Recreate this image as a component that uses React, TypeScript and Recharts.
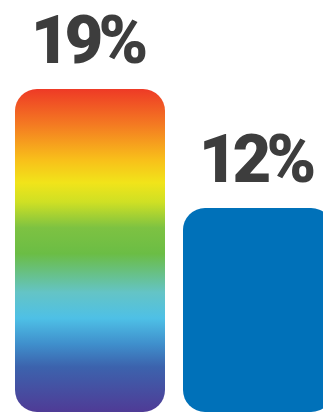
import { BarChart, Bar, XAxis, YAxis, Cell, LabelList } from 'recharts'

const categories = ['A', 'B']
const values = [19, 12]
const labels = ['19%', '12%']

const data = categories.map((c, i) => ({ name: c, value: values[i], label: labels[i] }))

const rainbow = [
  { offset: '0%', color: '#ee3a26' },
  { offset: '11%', color: '#f47a22' },
  { offset: '22%', color: '#f8c01a' },
  { offset: '29%', color: '#f1e41a' },
  { offset: '35%', color: '#cfe024' },
  { offset: '43%', color: '#7dc242' },
  { offset: '51%', color: '#6bbd45' },
  { offset: '63%', color: '#64c4c6' },
  { offset: '71%', color: '#4ec0e6' },
  { offset: '79%', color: '#3f8fcc' },
  { offset: '86%', color: '#3c63ad' },
  { offset: '100%', color: '#4f3b96' },
]

const renderLabel = (props: any) => {
  const { x, y, width, value } = props
  return (
    <text x={x + width / 2 - 3} y={y - 26} textAnchor="middle"
      style={{ fontFamily: 'Roboto', fontWeight: 900, fontSize: 67, letterSpacing: '-5px' }}
      fill="#3d3d3d">
      {value}
    </text>
  )
}

export default function App() {
  return (
    <div style={{ position: 'absolute', left: 0, top: 0, width: 323, height: 412, overflow: 'hidden', background: '#fff' }}>
      <BarChart width={342} height={412} data={data}
        margin={{ top: 89, right: 0, bottom: 0, left: 6 }} barSize={150}>
        <defs>
          <linearGradient id="rainbow" x1="0" y1="0" x2="0" y2="1">
            {rainbow.map(s => <stop key={s.offset} offset={s.offset} stopColor={s.color} />)}
          </linearGradient>
        </defs>
        <XAxis dataKey="name" hide />
        <YAxis hide domain={[0, 19]} />
        <Bar dataKey="value" radius={[22, 22, 22, 22]} isAnimationActive={false}>
          <Cell fill="url(#rainbow)" />
          <Cell fill="#0071b9" />
          <LabelList dataKey="label" content={renderLabel} />
        </Bar>
      </BarChart>
    </div>
  )
}
